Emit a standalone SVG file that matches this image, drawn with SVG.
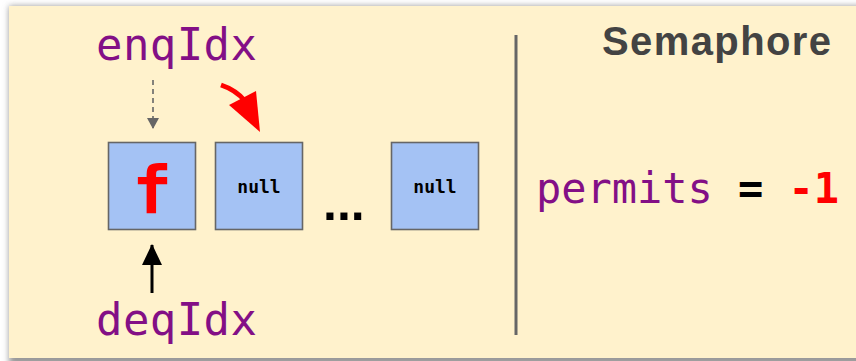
<svg xmlns="http://www.w3.org/2000/svg" width="856" height="361" viewBox="0 0 856 361">
  <defs>
    <filter id="shadow" x="-5%" y="-5%" width="110%" height="110%">
      <feGaussianBlur stdDeviation="3"/>
    </filter>
    <marker id="grayHead" markerWidth="12" markerHeight="12" viewBox="0 0 12 12" refX="10" refY="6" orient="auto" markerUnits="userSpaceOnUse">
      <path d="M0,0 L11,6 L0,12 Z" fill="#666666"/>
    </marker>
    <marker id="blackHead" markerWidth="22" markerHeight="22" viewBox="0 0 22 22" refX="20" refY="11" orient="auto" markerUnits="userSpaceOnUse">
      <path d="M0,1 L21,11 L0,21 Z" fill="#000000"/>
    </marker>
  </defs>
  <style>
    .cell { fill: #a4c2f4; stroke: #666666; stroke-width: 1.6; }
    .mono { font-family: "DejaVu Sans Mono", "Liberation Mono", monospace; }
    .var { fill: #830f86; font-size: 44px; }
    .null { font-weight: bold; font-size: 18px; fill: #000000; text-anchor: middle; }
  </style>
  <rect x="0" y="0" width="856" height="361" fill="#ffffff"/>
  <rect x="9" y="6" width="880" height="360" fill="#9a9a9a" filter="url(#shadow)"/>
  <rect x="9" y="6" width="880" height="352" fill="#fff2cc"/>

  <g id="connectors">
    <line x1="153" y1="80" x2="153" y2="128" stroke="#666666" stroke-width="1.6" stroke-dasharray="5,4" marker-end="url(#grayHead)"/>
    <path d="M221,85 Q236,90 245,101" fill="none" stroke="#ff0000" stroke-width="5"/>
    <polygon points="229,105 256,91 260,132" fill="#ff0000"/>
    <line x1="152" y1="293" x2="152" y2="245" stroke="#000000" stroke-width="3" marker-end="url(#blackHead)"/>
  </g>

  <g id="enqIdx">
    <text class="mono var" x="96" y="60" textLength="161" lengthAdjust="spacing">enqIdx</text>
  </g>
  <g id="deqIdx">
    <text class="mono var" x="96" y="335" textLength="161" lengthAdjust="spacing">deqIdx</text>
  </g>

  <g id="cell0">
    <rect class="cell" x="108.5" y="142.5" width="87" height="87"/>
    <text class="mono" x="152" y="213" font-size="66" font-weight="bold" fill="#ff0000" text-anchor="middle">f</text>
  </g>
  <g id="cell1">
    <rect class="cell" x="215.5" y="142.5" width="87" height="87"/>
    <text class="mono null" x="259" y="193">null</text>
  </g>
  <g id="ellipsis">
    <text x="323" y="220" font-family="Liberation Sans, Arial, sans-serif" font-weight="bold" font-size="50" fill="#000000">...</text>
  </g>
  <g id="cellN">
    <rect class="cell" x="391.5" y="142.5" width="87" height="87"/>
    <text class="mono null" x="435" y="193">null</text>
  </g>

  <g id="divider">
    <line x1="516" y1="35" x2="516" y2="335" stroke="#666666" stroke-width="3"/>
  </g>

  <g id="semaphore">
    <text x="602" y="55" font-family="Liberation Sans, Arial, sans-serif" font-weight="bold" font-size="40" fill="#434343" textLength="229" lengthAdjust="spacing">Semaphore</text>
    <text class="mono" x="536" y="203" font-size="42" fill="#830f86" textLength="303" lengthAdjust="spacing">permits <tspan fill="#000000" font-weight="bold">=</tspan> <tspan fill="#ff0000" font-weight="bold">-1</tspan></text>
  </g>
</svg>
